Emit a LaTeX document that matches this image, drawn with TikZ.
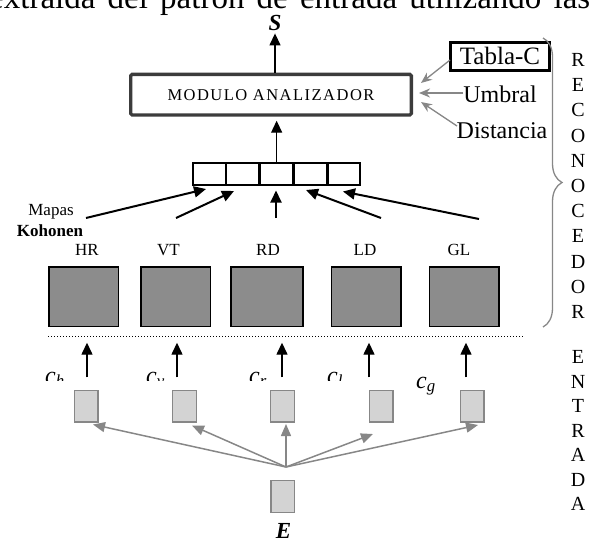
\documentclass[tikz,border=0pt]{standalone}
\usepackage{fontspec}
\setmainfont{Liberation Serif}
\newfontfamily\modfont[LetterSpace=9]{Liberation Serif}
\usetikzlibrary{arrows.meta,decorations.pathreplacing,calc}
\definecolor{boxgray}{HTML}{8C8C8C}
\definecolor{lightbox}{HTML}{D3D3D3}
\definecolor{arrgray}{HTML}{878787}
\definecolor{modedge}{HTML}{3C3C3C}
\newcommand{\myfs}[1]{\fontsize{#1}{#1}\selectfont}
\tikzset{
  kbox/.style={draw=black, line width=1.5pt, fill=boxgray, minimum width=69.5pt, minimum height=59.5pt, inner sep=0},
  sbox/.style={draw=arrgray, line width=1.3pt, fill=lightbox, minimum width=23.7pt, minimum height=31.4pt, inner sep=0},
  vecbox/.style={draw=black, line width=1.7pt, minimum width=167pt, minimum height=22pt, inner sep=0},
  cellb/.style={minimum width=33.74pt, minimum height=22pt, inner sep=0, outer sep=0},
  blk/.style={line width=1.4pt, -{Triangle[length=12pt,width=11pt]}},
  thk/.style={line width=2pt, -{Triangle[length=12pt,width=11pt]}},
  garr/.style={draw=arrgray, line width=1.5pt, -{Triangle[length=12pt,width=10pt]}},
  sarr/.style={draw=arrgray, line width=1.3pt, -{Stealth[length=11pt,width=9pt]}},
  lbl/.style={font=\myfs{17}, inner sep=0, anchor=base},
  side/.style={font=\myfs{24}, inner sep=0, anchor=base},
  vlet/.style={font=\fontsize{20}{25.2}\selectfont, align=center, inner sep=0},
  clab/.style={font=\myfs{24}\itshape, inner sep=0, anchor=base west},
}
\begin{document}
\begin{tikzpicture}[x=1pt,y=-1pt]
\useasboundingbox (0,0) rectangle (596,541);
% cut-off text line at the top
\node[anchor=base west, inner sep=0, font=\myfs{33}] (toptext) at (-11,8.5)
  {\hbox to 601pt{extraída\hfil del\hfil patrón\hfil de\hfil entrada\hfil utilizando\hfil las}};
% output S and analyser
\node[font=\myfs{23}\bfseries\itshape, anchor=base, inner sep=0] (S) at (275,30) {S};
\node[draw=modedge, line width=3.3pt, rounded corners=1.5pt, minimum width=280.7pt, minimum height=40.7pt, inner sep=0] (mod) at (271,94.7)
  {\modfont\myfs{16.5}MODULO ANALIZADOR};
\draw[blk] (mod.north -| S.south) -- ($(S.south)+(0,3)$);
% vector
\node[vecbox] (vec) at (276.65,174.15) {};
\foreach \i in {1,...,5} \node[cellb] (c\i) at ({192.3+33.74*\i-16.87},174.15) {};
\foreach \i in {1,...,4} \draw[line width=2.6pt] (c\i.north east) -- (c\i.south east);
\draw[blk] (vec.north) -- ($(vec.north |- mod.south)+(0,4)$);
% side inputs
\node[draw=black, line width=3pt, minimum width=99pt, minimum height=28pt, inner sep=0, font=\myfs{25}] (tab) at (500,56.2) {Tabla-C};
\node[side] (umb) at (500,102) {Umbral};
\node[side] (dis) at (502,138) {Distancia};
\coordinate (tabT) at (450,60);  \coordinate (tabH) at (421,83);
\coordinate (umbT) at (463,93);  \coordinate (umbH) at (419,93);
\coordinate (disT) at (457,126); \coordinate (disH) at (421,102);
\draw[sarr] (tabT) -- (tabH);
\draw[sarr, line width=1.8pt] (umbT) -- (umbH);
\draw[sarr] (disT) -- (disH);
% brace and vertical words
\coordinate (brTop) at (543,38); \coordinate (brBot) at (543,327);
\draw[arrgray, line width=1.3pt, decorate, decoration={brace, amplitude=19pt}] (brTop) -- (brBot);
\node[vlet] (reco) at (578,186) {R\\E\\C\\O\\N\\O\\C\\E\\D\\O\\R};
\node[font=\fontsize{20}{24.5}\selectfont, align=center, inner sep=0] (entr) at (578,430.5) {E\\N\\T\\R\\A\\D\\A};
% Kohonen maps
\node[kbox] (k1) at (83.5,296.5) {};
\node[kbox] (k2) at (175.5,296.5) {};
\node[kbox, minimum width=72pt] (k3) at (266.75,296.5) {};
\node[kbox] (k4) at (366.25,296.5) {};
\node[kbox] (k5) at (464,296.5) {};
\node[lbl] (hr) at (87,255) {HR};
\node[lbl] (vt) at (168.5,255) {VT};
\node[lbl] (rd) at (268,255) {RD};
\node[lbl] (ld) at (365,255) {LD};
\node[lbl] (gl) at (459,255) {GL};
\node[lbl] (mapas) at (51,215) {Mapas};
\node[lbl, font=\myfs{17}\bfseries] (koh) at (50,236.7) {Kohonen};
% arrows maps -> vector
\coordinate (kt1) at (86,218);  \coordinate (ka1) at (206,189);
\coordinate (kt2) at (176,218); \coordinate (ka2) at (234,191);
\coordinate (kt3) at (276,218); \coordinate (ka3) at (276,190.5);
\coordinate (kt4) at (381,218); \coordinate (ka4) at (306,190);
\coordinate (kt5) at (479,219); \coordinate (ka5) at (343,191.5);
\foreach \i in {1,...,5} \draw[thk] (kt\i) -- (ka\i);
% dotted separator
\coordinate (dl) at (48,336.7); \coordinate (dr) at (523,336.7);
\draw[line width=1.2pt, dash pattern=on 1.2pt off 1.8pt] (dl) -- (dr);
% up arrows
\foreach \i/\x in {1/87,2/177,3/282,4/369,5/466} {
  \coordinate (ub\i) at (\x,377.3);
  \coordinate (ut\i) at (\x,342.7);
  \draw[blk] (ub\i) -- (ut\i);
}
% feature labels (partly hidden)
\begin{scope}
  \clip (0,340) rectangle (400,380.5);
  \node[clab] (ch) at (45,383) {c\textsubscript{h}};
  \node[clab] (cv) at (146,383) {c\textsubscript{v}};
  \node[clab] (cr) at (249,383) {c\textsubscript{r}};
  \node[clab] (cl) at (327,383) {c\textsubscript{l}};
\end{scope}
\node[clab] (cg) at (416,388) {c\textsubscript{g}};
% small input boxes
\node[sbox] (sb1) at (86.25,406.35) {};
\node[sbox] (sb2) at (184.5,406.35) {};
\node[sbox] (sb3) at (282.5,406.35) {};
\node[sbox] (sb4) at (381,406.35) {};
\node[sbox] (sb5) at (472.25,406.35) {};
\node[sbox, minimum height=32pt] (ebox) at (282.7,496.7) {};
\node[font=\myfs{23}\bfseries\itshape, anchor=base, inner sep=0] (E) at (283.6,538) {E};
% fan of gray arrows
\coordinate (fan) at (286,467);
\coordinate (f1) at (93,424.5);
\coordinate (f2) at (192,425.5);
\coordinate (f3) at (286,424);
\coordinate (f4) at (373,434);
\coordinate (f5) at (478,425);
\foreach \i in {1,...,5} \draw[garr] (fan) -- (f\i);
\end{tikzpicture}
\end{document}
